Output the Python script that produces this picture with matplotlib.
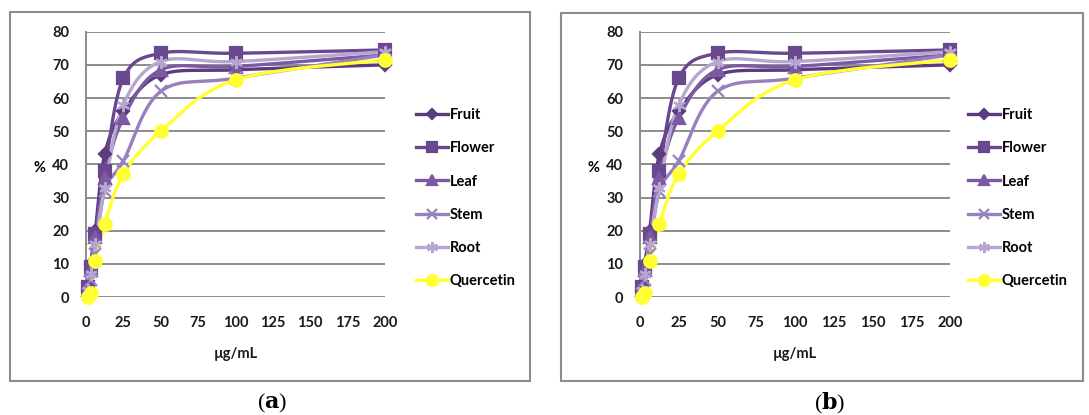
import matplotlib
matplotlib.use("Agg")
import matplotlib.pyplot as plt
import numpy as np
from matplotlib.lines import Line2D
from matplotlib.patches import Rectangle

plt.rcParams["font.family"] = ["Lato", "DejaVu Sans"]
plt.rcParams["mathtext.fontset"] = "dejavuserif"

# concentrations (ug/mL) and % inhibition per extract
conc = [1.56, 3.125, 6.25, 12.5, 25, 50, 100, 200]
fruit = [2, 10, 20, 43, 56, 67, 68.5, 70]
flower = [3, 9, 19, 38, 66, 73.5, 73.5, 74.5]
leaf = [2, 8, 18, 36, 54, 68.5, 69.5, 73]
stem = [1, 5, 13, 32, 41, 62, 66, 73]
root = [2, 7, 16, 33, 58, 71, 71, 74]
quercetin = [0, 1.2, 10.8, 22, 37, 50, 65.5, 71.5]

names = ["Fruit", "Flower", "Leaf", "Stem", "Root", "Quercetin"]
series = [fruit, flower, leaf, stem, root, quercetin]
colors = ["#5c3b7e", "#6a4890", "#7b5aa2", "#9880bf", "#b7a6d1", "#ffff33"]
markers = ["D", "s", "^", "x", (6, 2, 0), "o"]
msizes = [6, 8, 8, 8, 9, 9]

xticks = [0, 25, 50, 75, 100, 125, 150, 175, 200]
yticks = [0, 10, 20, 30, 40, 50, 60, 70, 80]

W, H = 1089, 415


def smooth(x, y, sx, sy, n=30):
    # excel style smoothed line (catmull-rom bezier) in screen units
    px = np.asarray(x, float) * sx
    py = np.asarray(y, float) * sy
    pts = np.column_stack([px, py])
    out = []
    for i in range(len(pts) - 1):
        p0 = pts[max(i - 1, 0)]
        p1 = pts[i]
        p2 = pts[i + 1]
        p3 = pts[min(i + 2, len(pts) - 1)]
        c1 = p1 + (p2 - p0) / 6
        c2 = p2 - (p3 - p1) / 6
        t = np.linspace(0, 1, n)[:, None]
        seg = (1 - t) ** 3 * p1 + 3 * (1 - t) ** 2 * t * c1 + 3 * (1 - t) * t ** 2 * c2 + t ** 3 * p2
        out.append(seg if i == 0 else seg[1:])
    out = np.vstack(out)
    return out[:, 0] / sx, out[:, 1] / sy


fig = plt.figure(figsize=(W / 100, H / 100), dpi=100)

panels = [
    dict(box=(10, 12, 530, 381), ax=(86, 385), leg=416, tag="a", tagx=272),
    dict(box=(561, 13, 1083, 381), ax=(640, 950), leg=968, tag="b", tagx=830),
]

for p in panels:
    bx0, by0, bx1, by1 = p["box"]
    fig.patches.append(Rectangle((bx0 / W, 1 - by1 / H), (bx1 - bx0) / W, (by1 - by0) / H,
                                 transform=fig.transFigure, fill=False, edgecolor="#8c8c8c", linewidth=1.5))
    ax0, ax1 = p["ax"]
    top, bot = 31.7, 297
    ax = fig.add_axes([ax0 / W, 1 - bot / H, (ax1 - ax0) / W, (bot - top) / H])
    sx = (ax1 - ax0) / 200
    sy = (bot - top) / 80
    for s, c, m, ms in zip(series, colors, markers, msizes):
        xs, ys = smooth(conc, s, sx, sy)
        ax.plot(xs, ys, color=c, linewidth=2.4, solid_capstyle="round", zorder=3, clip_on=False)
        ax.plot(conc, s, linestyle="none", marker=m, markersize=ms, color=c,
                markeredgecolor=c, markeredgewidth=1.6, zorder=4, clip_on=False)
    ax.set_xlim(0, 200)
    ax.set_ylim(0, 80)
    ax.set_xticks(xticks)
    ax.set_yticks(yticks)
    ax.tick_params(length=0, labelsize=10.5)
    ax.tick_params(axis="x", pad=14)
    ax.tick_params(axis="y", pad=12)
    for lab in ax.get_xticklabels() + ax.get_yticklabels():
        lab.set_fontweight("bold")
        lab.set_color("#1a1a1a")
    ax.grid(axis="y", color="#8c8c8c", linewidth=1.4)
    ax.set_axisbelow(True)
    for side in ["top", "right", "bottom"]:
        ax.spines[side].set_visible(False)
    ax.spines["left"].set_color("#8c8c8c")
    ax.spines["left"].set_linewidth(1.4)
    ax.set_xlabel("µg/mL", fontsize=10.5, fontweight="bold", color="#1a1a1a", labelpad=12)
    fig.text((ax0 - 46) / W, 1 - 168 / H, "%", fontsize=10.5, fontweight="bold", ha="center", va="center")

    handles = [Line2D([], [], color=c, marker=m, markersize=ms - 1, markeredgewidth=1.6, linewidth=2.4)
               for c, m, ms in zip(colors, markers, msizes)]
    fig.legend(handles, names, loc="upper left", bbox_to_anchor=(p["leg"] / W, 1 - 108 / H),
               frameon=False, handlelength=2.2, handletextpad=0.1, labelspacing=1.32,
               borderpad=0, borderaxespad=0, prop=dict(size=10.5, weight="bold"))

    fig.text(p["tagx"] / W, 1 - 403 / H, "(" + r"$\mathbf{" + p["tag"] + "}$" + ")", fontsize=16,
             ha="center", va="center", family=["Liberation Serif"])

fig.savefig("out.png", dpi=100)
